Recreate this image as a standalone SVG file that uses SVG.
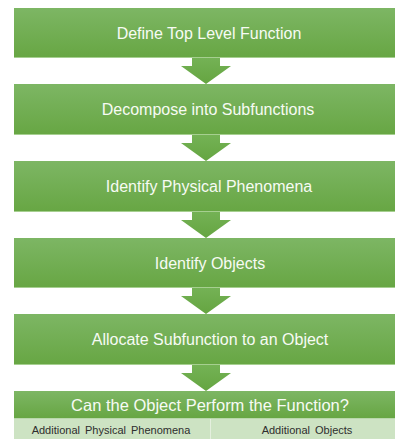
<svg xmlns="http://www.w3.org/2000/svg" width="395" height="439" viewBox="0 0 395 439">
  <defs>
    <linearGradient id="gBox" x1="0" y1="0" x2="0" y2="1">
      <stop offset="0" stop-color="#7db664"/>
      <stop offset="1" stop-color="#67a643"/>
    </linearGradient>
    <linearGradient id="gArrow" x1="0" y1="0" x2="0" y2="1">
      <stop offset="0" stop-color="#74b255"/>
      <stop offset="1" stop-color="#65a541"/>
    </linearGradient>
    <path id="arrow" d="M192,0 H220 V8 H231 L206,26 L181,8 H192 Z"/>
  </defs>
  <style>
    .box { fill: url(#gBox); }
    .edge { fill: #a6cf90; }
    .t { font-family: "Liberation Sans", Arial, sans-serif; font-size: 16px; fill: #f7fbf4; text-anchor: middle; }
    .tt { font-family: "Liberation Sans", Arial, sans-serif; font-size: 16.5px; fill: #f7fbf4; text-anchor: middle; }
    .s { font-family: "Liberation Sans", Arial, sans-serif; font-size: 11px; fill: #2e2e2e; text-anchor: middle; }
    .arr { fill: url(#gArrow); }
  </style>
  <rect width="395" height="439" fill="#ffffff"/>

  <g id="connectors">
    <use href="#arrow" class="arr" transform="translate(0,58)"/>
    <use href="#arrow" class="arr" transform="translate(0,135)"/>
    <use href="#arrow" class="arr" transform="translate(0,212)"/>
    <use href="#arrow" class="arr" transform="translate(0,288)"/>
    <use href="#arrow" class="arr" transform="translate(0,365)"/>
  </g>

  <g id="node1">
    <rect class="box" x="14" y="8" width="381" height="50"/>
    <rect class="edge" x="14" y="57" width="381" height="1"/>
    <text class="t" x="209" y="39">Define Top Level Function</text>
  </g>
  <g id="node2">
    <rect class="box" x="14" y="84" width="381" height="51"/>
    <rect class="edge" x="14" y="134" width="381" height="1"/>
    <text class="t" x="208" y="115">Decompose into Subfunctions</text>
  </g>
  <g id="node3">
    <rect class="box" x="14" y="161" width="381" height="51"/>
    <rect class="edge" x="14" y="211" width="381" height="1"/>
    <text class="t" x="209" y="192">Identify Physical Phenomena</text>
  </g>
  <g id="node4">
    <rect class="box" x="14" y="238" width="381" height="50"/>
    <rect class="edge" x="14" y="287" width="381" height="1"/>
    <text class="t" x="210" y="269">Identify Objects</text>
  </g>
  <g id="node5">
    <rect class="box" x="14" y="314" width="381" height="51"/>
    <rect class="edge" x="14" y="364" width="381" height="1"/>
    <text class="t" x="210" y="345">Allocate Subfunction to an Object</text>
  </g>
  <g id="node6">
    <rect class="box" x="14" y="391" width="381" height="27"/>
    <rect x="14" y="418" width="381" height="21" fill="#cde3c3"/>
    <rect x="14" y="418" width="381" height="1" fill="#b9d8ab"/>
    <rect x="210" y="419" width="1" height="20" fill="#e4efde"/>
    <text class="tt" x="210" y="411">Can the Object Perform the Function?</text>
    <text class="s" x="111" y="434" word-spacing="2">Additional Physical Phenomena</text>
    <text class="s" x="307" y="434" word-spacing="2">Additional Objects</text>
  </g>
</svg>
